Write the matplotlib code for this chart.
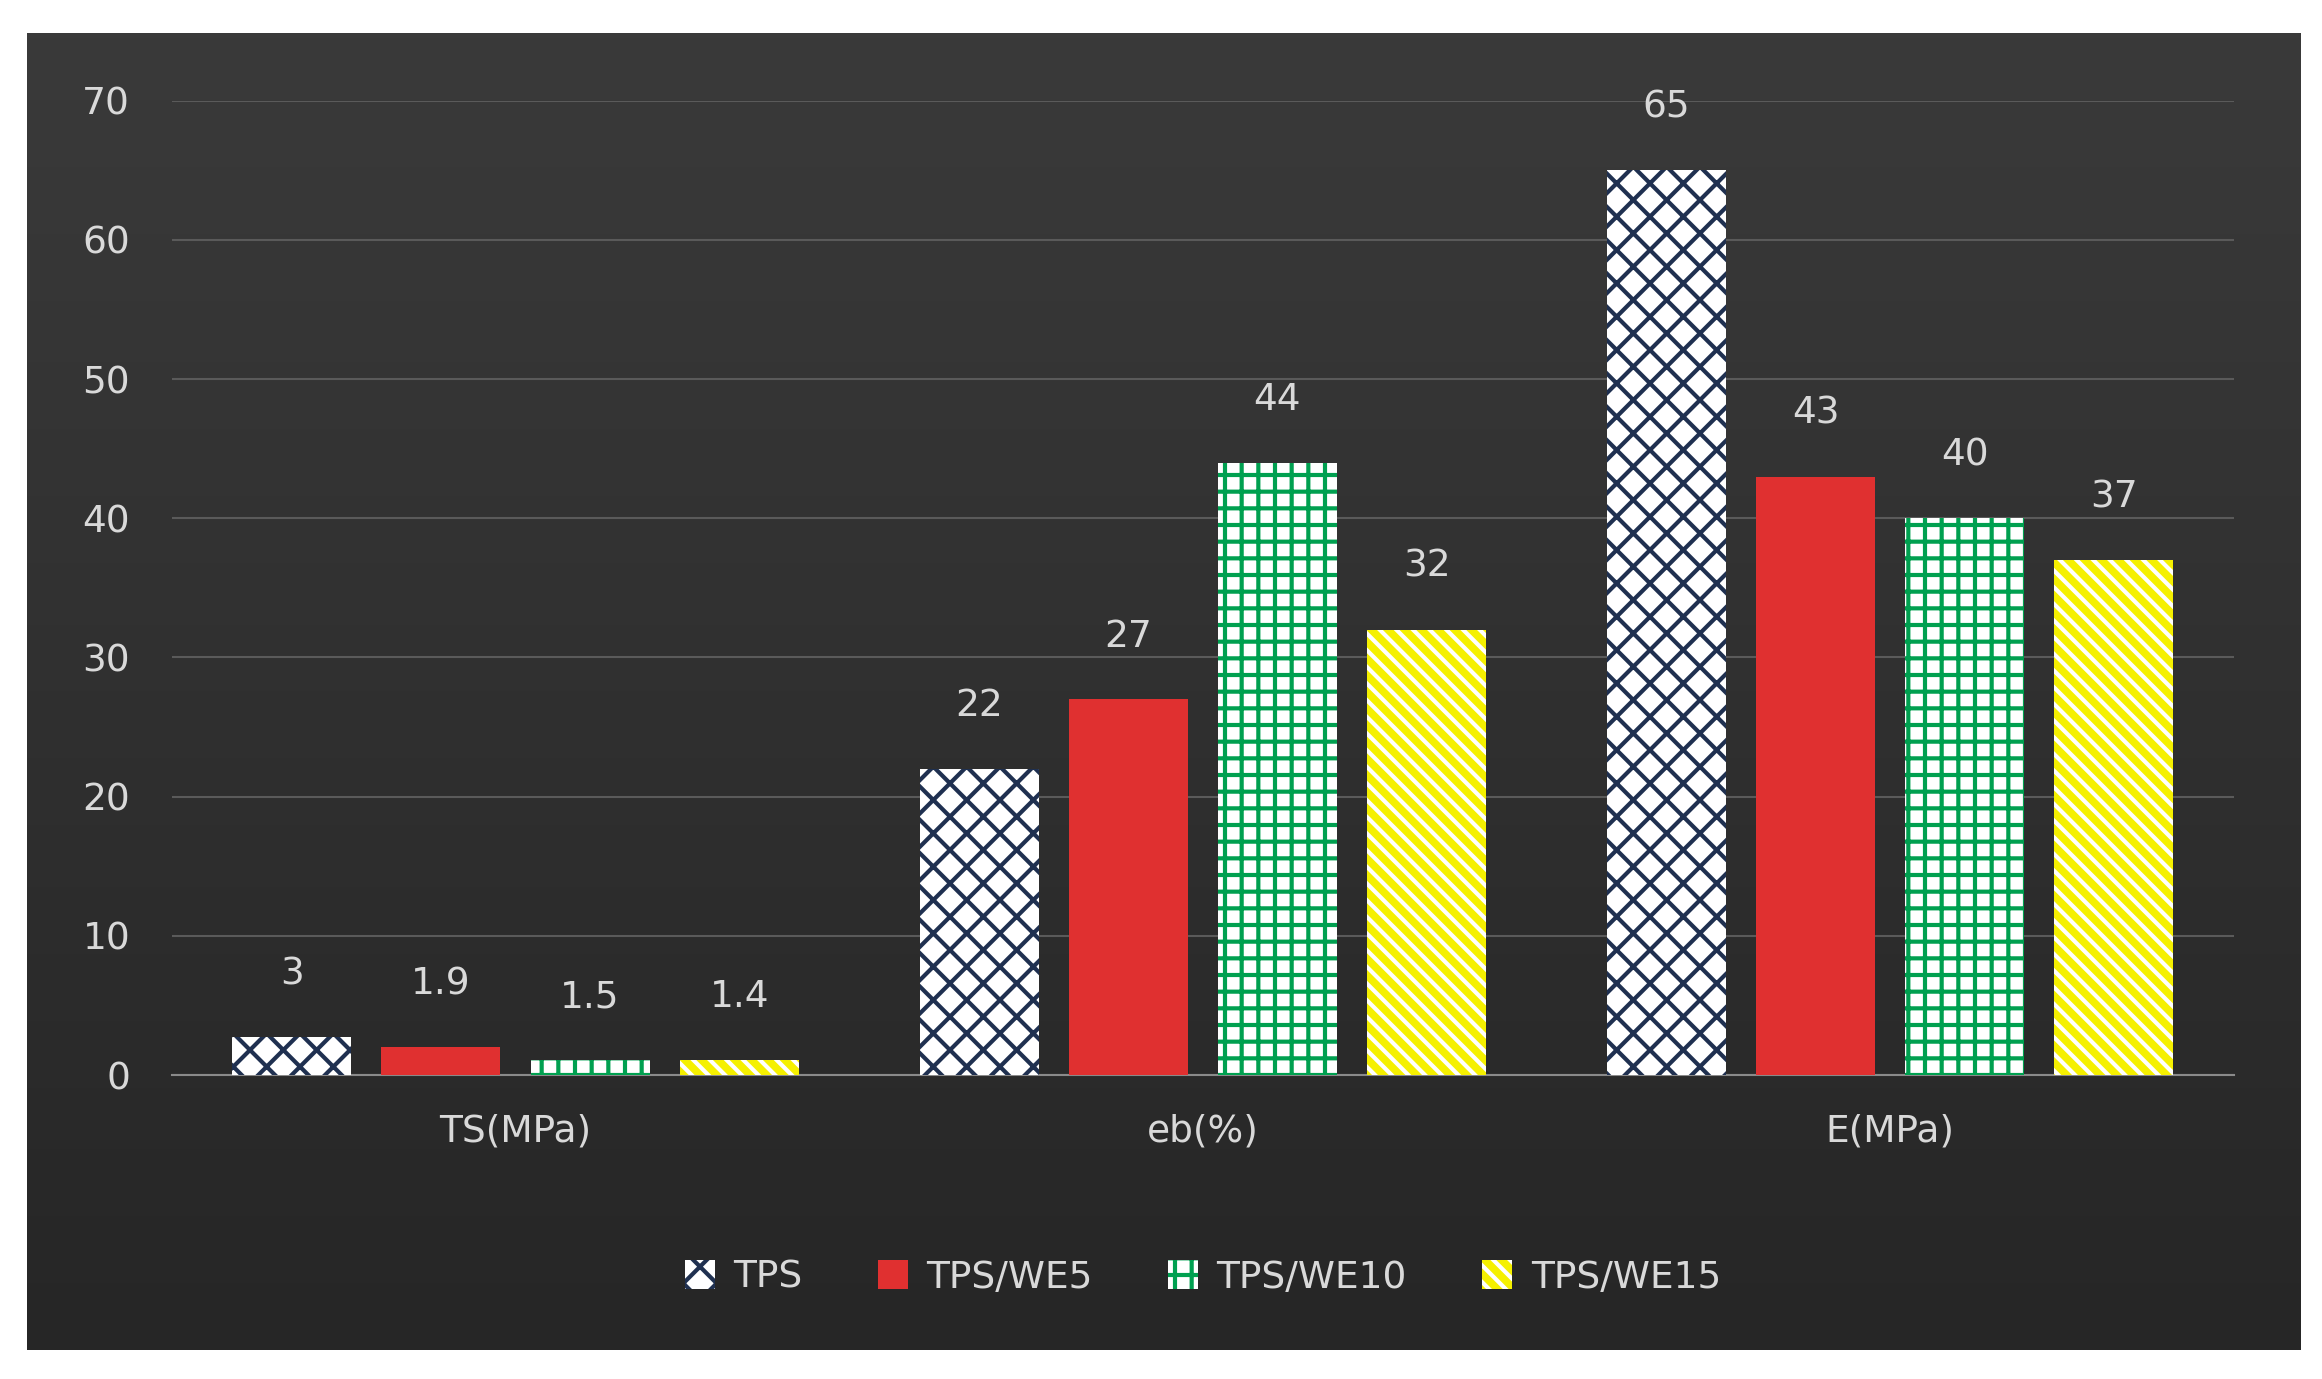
import matplotlib
matplotlib.use("Agg")
import matplotlib.pyplot as plt
import numpy as np

categories = ["TS(MPa)", "eb(%)", "E(MPa)"]
series = ["TPS", "TPS/WE5", "TPS/WE10", "TPS/WE15"]
heights = {
    "TPS": [2.7, 22, 65],
    "TPS/WE5": [2.0, 27, 43],
    "TPS/WE10": [1.1, 44, 40],
    "TPS/WE15": [1.1, 32, 37],
}
labels = {
    "TPS": ["3", "22", "65"],
    "TPS/WE5": ["1.9", "27", "43"],
    "TPS/WE10": ["1.5", "44", "40"],
    "TPS/WE15": ["1.4", "32", "37"],
}
yticks = [0, 10, 20, 30, 40, 50, 60, 70]

plt.rcParams['hatch.linewidth'] = 3.0
fig = plt.figure(figsize=(23.22, 13.79), dpi=100)
fig.patch.set_facecolor("white")
bg = fig.add_axes([0.0115, 0.021, 0.979, 0.955])
grad = np.linspace(0, 1, 256).reshape(-1, 1)
bg.imshow(grad, aspect="auto", cmap=matplotlib.colors.LinearSegmentedColormap.from_list("g", ["#3a3a3a", "#262626"]), extent=[0, 1, 0, 1])
bg.axis("off")

ax = fig.add_axes([0.074, 0.2204, 0.888, 0.7066])
ax.set_facecolor("none")
styles = {
    "TPS": dict(facecolor="white", hatch="x", edgecolor="#1f3050"),
    "TPS/WE5": dict(facecolor="#e03030", hatch=None, edgecolor="#b02020"),
    "TPS/WE10": dict(facecolor="white", hatch="+", edgecolor="#00a050"),
    "TPS/WE15": dict(facecolor="#f5f000", hatch="\\\\", edgecolor="white"),
}
x = np.arange(len(categories))
w = 0.173
off = 0.217
tc = "#d9d9d9"
for i, s in enumerate(series):
    xs = x + (i - 1.5) * off
    st = styles[s]
    bars = ax.bar(xs, heights[s], w, facecolor=st["facecolor"], hatch=st["hatch"],
                  edgecolor=st["edgecolor"], linewidth=0, zorder=3, label=s)
    for b, lab in zip(bars, labels[s]):
        ax.text(b.get_x() + b.get_width() / 2, b.get_height() + 4.5, lab,
                ha="center", va="center", color=tc, fontsize=27)

ax.set_xlim(-0.5, 2.5)
ax.set_ylim(0, 70)
ax.set_yticks(yticks)
ax.set_yticklabels([str(v) for v in yticks], color=tc, fontsize=27)
ax.set_xticks(x)
ax.set_xticklabels(categories, color=tc, fontsize=27)
ax.tick_params(length=0, pad=30)
ax.tick_params(axis="x", pad=28)
ax.yaxis.grid(True, color="#5a5a5a", linewidth=1.5, zorder=0)
for sp in ["top", "right", "left"]:
    ax.spines[sp].set_visible(False)
ax.spines["bottom"].set_color("#8a8a8a")
ax.spines["bottom"].set_linewidth(1.5)

leg = ax.legend(loc="upper center", bbox_to_anchor=(0.5, -0.155), ncol=4, frameon=False,
                fontsize=27, handlelength=0.8, handleheight=0.8, columnspacing=2.0, handletextpad=0.5)
for t in leg.get_texts():
    t.set_color(tc)
fig.savefig("out.png", dpi=100, facecolor="white")
